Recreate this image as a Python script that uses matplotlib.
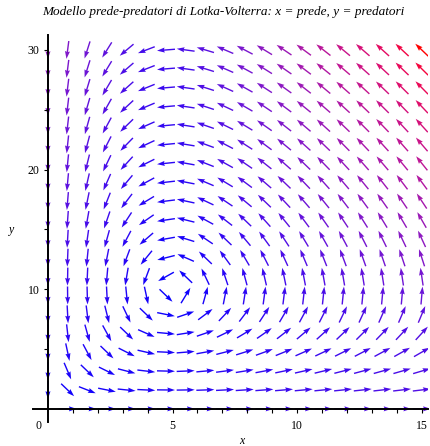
import numpy as np
import matplotlib.pyplot as plt

# Lotka-Volterra parameters: x' = a x - b x y ,  y' = -c y + d x y
a = 1.0
b = 0.1
c = 1.0
d = 0.2

# grid of the direction field
x_vals = np.linspace(0, 15, 20)
y_vals = np.linspace(0, 30, 20)

x_ticks = [5, 10, 15]
y_ticks = [10, 20, 30]

title = "Modello prede-predatori di Lotka-Volterra: x = prede, y = predatori"

X, Y = np.meshgrid(x_vals, y_vals)
U = a * X - b * X * Y
V = -c * Y + d * X * Y

fig = plt.figure(figsize=(4.31, 4.46), dpi=100)
ax = fig.add_axes([33 / 431, 24 / 446, 395 / 431, 387 / 446])
ax.set_xlim(-0.6, 15.25)
ax.set_ylim(-1.1, 31.25)

# direction on screen, fixed arrow length
sx = ax.bbox.width / (15.25 + 0.6)
sy = ax.bbox.height / (31.25 + 1.1)
Us, Vs = U * sx, V * sy
norm = np.hypot(Us, Vs)
norm[norm == 0] = 1
L = 18
Us, Vs = Us / norm * L, Vs / norm * L

# colour by speed, blue (slow) -> purple -> red (fast)
mag = np.hypot(U, V)
t = (mag / mag.max()).ravel()
cols = np.column_stack([t ** 0.7, 0.1 * np.sin(np.pi * t), (1 - t) ** 0.5])

ax.quiver(X, Y, Us, Vs, color=cols, angles='uv', scale_units='dots', scale=1,
          units='dots', width=1.4, headwidth=3.6, headlength=5.5, headaxislength=5.0,
          pivot='mid', zorder=1)

# maple style axes through the origin
for s in ['top', 'right']:
    ax.spines[s].set_visible(False)
ax.spines['left'].set_position(('data', 0))
ax.spines['bottom'].set_position(('data', 0))
for s in ['left', 'bottom']:
    ax.spines[s].set_linewidth(1.4)
    ax.spines[s].set_zorder(3)

ax.set_xticks(x_ticks)
ax.set_yticks(y_ticks)
ax.set_xticks(range(1, 16), minor=True)
ax.set_yticks([5, 15, 25], minor=True)
ax.tick_params(which='both', direction='out', length=3, width=0.8, labelsize=8.5)
ax.tick_params(axis='x', which='major', pad=5)
ax.tick_params(axis='y', which='major', pad=3)
for lab in ax.get_xticklabels() + ax.get_yticklabels():
    lab.set_fontfamily('Liberation Serif')

ax.text(-0.25, -0.9, "0", ha='right', va='top', fontsize=8.5, family='Liberation Serif')
fig.text(12 / 431, 1 - 230 / 446, "y", ha='center', va='center', fontsize=8.5,
         family='Liberation Serif', style='italic')
fig.text(242 / 431, 1 - 441 / 446, "x", ha='center', va='center', fontsize=8.5,
         family='Liberation Serif', style='italic')
fig.text(223 / 431, 1 - 12 / 446, title, ha='center', va='center', fontsize=9.5,
         family='Liberation Serif', style='italic')

fig.savefig("out.png", dpi=100)
